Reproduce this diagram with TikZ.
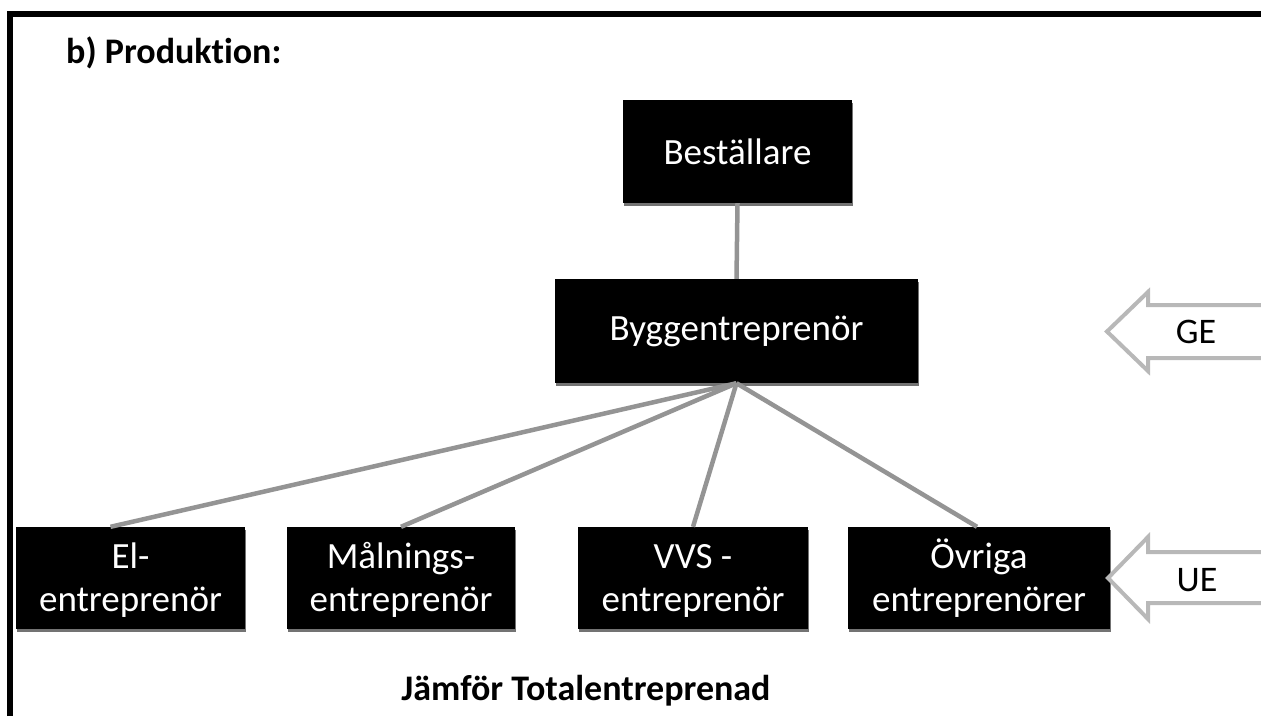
\documentclass[tikz,border=0pt]{standalone}
\usepackage{fontspec}
\setmainfont{Carlito}[Ligatures=NoCommon]
\usetikzlibrary{shadows,calc}
% first-line strut so every two-line box sets its baselines alike
\newcommand{\firstline}{\vphantom{Öl}}
\begin{document}
\begin{tikzpicture}[x=1pt,y=-1pt,
  box/.style={fill=black, text=white, font=\fontsize{37}{43}\selectfont,
    align=center, inner sep=0pt, minimum height=102pt,
    drop shadow={shadow xshift=1pt, shadow yshift=-3pt, fill=black!55, opacity=1}},
  link/.style={draw=black!42, line width=4.5pt},
  blockarrow/.style={draw=black!28, line width=4pt, fill=white, line join=miter},
  label/.style={font=\fontsize{36}{40}\selectfont, inner sep=0pt},
  heading/.style={font=\fontsize{36}{40}\selectfont\bfseries, inner sep=0pt}]
\useasboundingbox (0,0) rectangle (1261,716);
\fill[white] (0,0) rectangle (1261,716);

% frame
\draw[line width=6pt] (10,716) -- (10,14) -- (1261,14);

% headings
\node[heading, anchor=west] (title) at (66,53) {b) Produktion:};
\node[heading] (compare) at (586,691) {Jämför Totalentreprenad};

% organisation boxes
\node[box, minimum width=229pt, minimum height=103pt] (best) at (737.5,151.5) {Beställare};
\node[box, minimum width=363pt, minimum height=104pt] (bygg) at (736.5,331) {Byggentreprenör};
\node[box, minimum width=229pt] (el)  at (130.5,578) {\firstline El-\\entreprenör};
\node[box, minimum width=228pt] (mal) at (401,578) {\firstline Målnings-\\entreprenör};
\node[box, minimum width=230pt] (vvs) at (693,578) {\firstline VVS -\\entreprenör};
\node[box, minimum width=262pt] (ovr) at (979,578) {\firstline Övriga\\entreprenörer};

% connectors
\draw[link] (best.south) -- (bygg.north);
\draw[link] (bygg.south) -- ($(el.north)+(-20,0)$);
\draw[link] (bygg.south) -- (mal.north);
\draw[link] (bygg.south) -- (vvs.north);
\draw[link] (bygg.south) -- ($(ovr.north)+(-2,0)$);

% level markers
\draw[blockarrow] (1275,305) -- (1148,305) -- (1148,292) -- (1107,331.5)
  -- (1148,371) -- (1148,358) -- (1275,358);
\node[label] (ge) at (1196,332) {GE};
\draw[blockarrow] (1275,552) -- (1148,552) -- (1148,537) -- (1108,578)
  -- (1148,619) -- (1148,603) -- (1275,603);
\node[label] (ue) at (1197,580) {UE};
\end{tikzpicture}
\end{document}
